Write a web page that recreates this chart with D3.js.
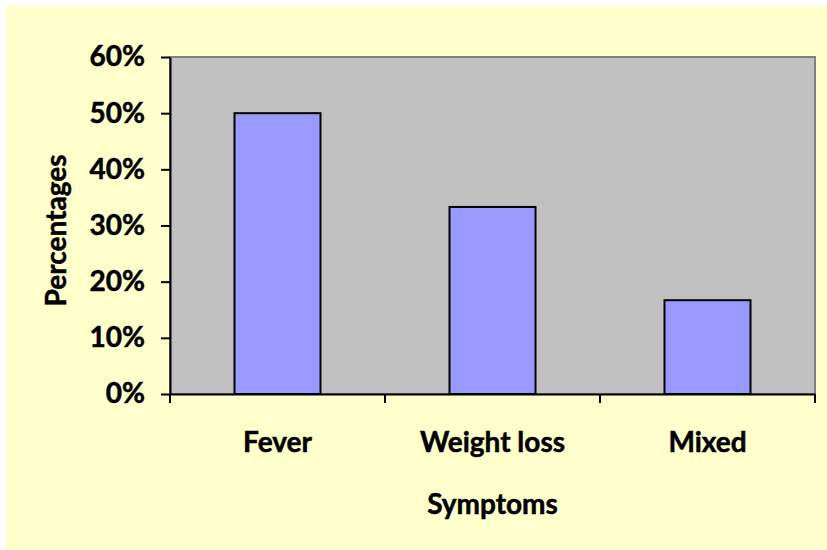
<!DOCTYPE html>
<html>
<head>
<meta charset="utf-8">
<script src="https://cdn.jsdelivr.net/npm/d3@7"></script>
<style>
  html, body { margin: 0; padding: 0; background: #ffffff; }
  svg { display: block; }
  text { font-family: Lato, "Open Sans", sans-serif; font-weight: bold; fill: #000; stroke: #000; stroke-width: 0.5px; }
</style>
</head>
<body>
<svg id="chart" width="827" height="550"></svg>
<script>
// Share of patients by presenting symptom
const categories = ["Fever", "Weight loss", "Mixed"];
const percentages = [50, 33.3, 16.7];
const yTicks = [0, 10, 20, 30, 40, 50, 60];
const xTitle = "Symptoms";
const yTitle = "Percentages";

const svg = d3.select("#chart");
const W = 827, H = 550;
const plot = { left: 170, top: 57, right: 815, bottom: 394 };
const fontSize = "28px";

// chart area background
svg.append("rect")
  .attr("x", 6).attr("y", 6)
  .attr("width", W - 6).attr("height", H - 6)
  .attr("fill", "#FFFFCC");

const x = d3.scaleBand()
  .domain(categories)
  .range([plot.left, plot.right])
  .paddingInner(0)
  .paddingOuter(0);

const y = d3.scaleLinear()
  .domain([0, 60])
  .range([plot.bottom, plot.top]);

// plot area
svg.append("rect")
  .attr("x", plot.left).attr("y", plot.top)
  .attr("width", plot.right - plot.left)
  .attr("height", plot.bottom - plot.top)
  .attr("fill", "#C0C0C0")
  .attr("stroke", "#808080")
  .attr("stroke-width", 2);

// bars: width is 40% of each category band
const barW = x.bandwidth() * 0.4;
svg.append("g").selectAll("rect")
  .data(categories.map((c, i) => ({ c, v: percentages[i] })))
  .join("rect")
  .attr("x", d => x(d.c) + (x.bandwidth() - barW) / 2)
  .attr("y", d => y(d.v))
  .attr("width", barW)
  .attr("height", d => y(0) - y(d.v))
  .attr("fill", "#9999FF")
  .attr("stroke", "#000")
  .attr("stroke-width", 2);

// y axis
const yAxis = svg.append("g")
  .attr("transform", `translate(${plot.left},0)`)
  .call(d3.axisLeft(y).tickValues(yTicks).tickFormat(d => d + "%")
    .tickSizeInner(9).tickSizeOuter(0).tickPadding(16));
yAxis.select(".domain").attr("stroke", "#000").attr("stroke-width", 2);
yAxis.selectAll(".tick line").attr("stroke", "#000").attr("stroke-width", 2);
yAxis.selectAll(".tick text")
  .style("font-size", fontSize)
  .style("font-family", "Lato, 'Open Sans', sans-serif")
  .style("font-weight", "bold")
  .attr("fill", "#000");

// x axis: ticks sit on category boundaries
const xAxis = svg.append("g")
  .attr("transform", `translate(0,${plot.bottom})`)
  .call(d3.axisBottom(x).tickSize(0).tickPadding(38));
xAxis.select(".domain").attr("stroke", "#000").attr("stroke-width", 2);
xAxis.selectAll(".tick text")
  .style("font-size", fontSize)
  .style("font-family", "Lato, 'Open Sans', sans-serif")
  .style("font-weight", "bold")
  .attr("fill", "#000");

const bounds = [x.range()[0], ...categories.map(c => x(c) + x.bandwidth())];
svg.append("g").selectAll("line")
  .data(bounds)
  .join("line")
  .attr("x1", d => d).attr("x2", d => d)
  .attr("y1", plot.bottom).attr("y2", plot.bottom + 9)
  .attr("stroke", "#000").attr("stroke-width", 2);

// axis titles
svg.append("text")
  .attr("x", (plot.left + plot.right) / 2)
  .attr("y", 514)
  .attr("text-anchor", "middle")
  .style("font-size", fontSize)
  .text(xTitle);

svg.append("text")
  .attr("transform", `translate(66,${(plot.top + plot.bottom) / 2 + 5}) rotate(-90)`)
  .attr("text-anchor", "middle")
  .style("font-size", fontSize)
  .text(yTitle);
</script>
</body>
</html>
